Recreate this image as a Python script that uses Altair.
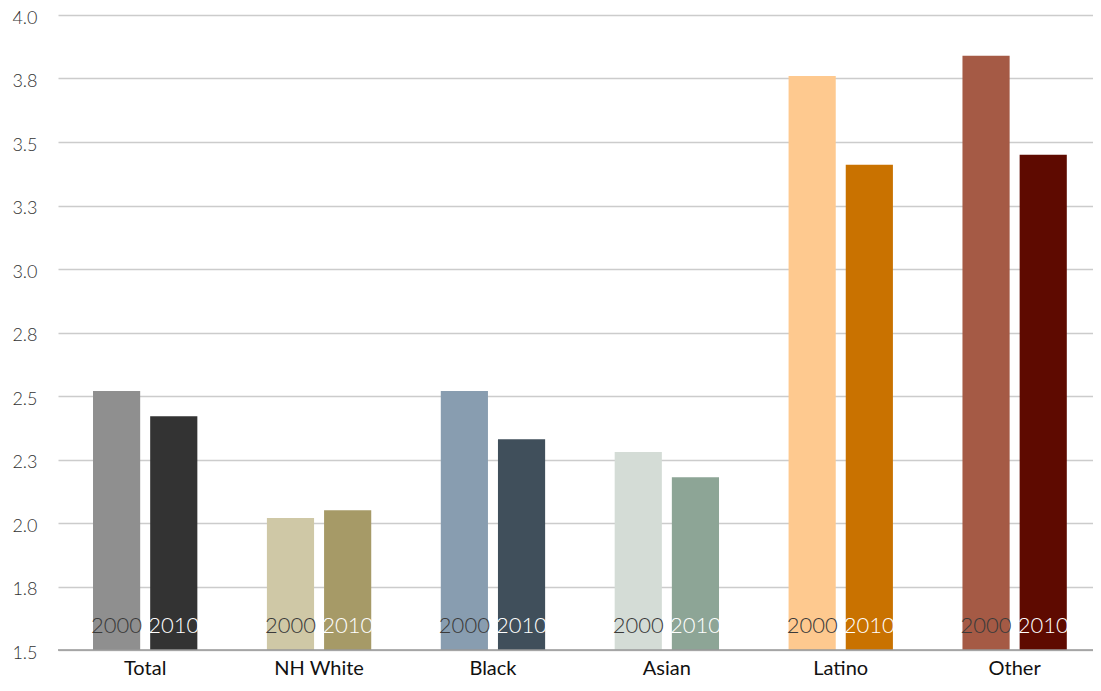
import altair as alt
import pandas as pd

groups = ['Total', 'NH White', 'Black', 'Asian', 'Latino', 'Other']
years = ['2000', '2010']
values_2000 = [2.52, 2.02, 2.52, 2.28, 3.76, 3.84]
values_2010 = [2.42, 2.05, 2.33, 2.18, 3.41, 3.45]
colors_2000 = ['#8f8f8f', '#cfc8a6', '#889db0', '#d4dcd6', '#fec98f', '#a55a45']
colors_2010 = ['#333333', '#a69a67', '#404f5b', '#8da596', '#c97200', '#5e0a00']
y_ticks = [1.5, 1.75, 2.0, 2.25, 2.5, 2.75, 3.0, 3.25, 3.5, 3.75, 4.0]

rows = []
for i, g in enumerate(groups):
    rows.append({'group': g, 'year': '2000', 'value': values_2000[i], 'key': g + ' 2000', 'base': 1.5})
    rows.append({'group': g, 'year': '2010', 'value': values_2010[i], 'key': g + ' 2010', 'base': 1.5})
df = pd.DataFrame(rows)

keys = list(df['key'])
key_colors = []
for i in range(len(groups)):
    key_colors.append(colors_2000[i])
    key_colors.append(colors_2010[i])

font = 'Lato'

# plot area stops at the page edge, so shift the bands a little to the left
x_scale = alt.Scale(paddingInner=0.4, paddingOuter=0.176, align=0.572)
x_enc = alt.X('group:N', sort=groups, title=None, scale=x_scale,
              axis=alt.Axis(labelFont=font, labelFontSize=20, labelColor='#111111',
                            labelAngle=0, labelPadding=8, ticks=False,
                            domain=False, grid=False))
xoff = alt.XOffset('year:N', sort=years, scale=alt.Scale(paddingInner=0.175, paddingOuter=0))

bars = alt.Chart(df).mark_bar().encode(
    x=x_enc,
    xOffset=xoff,
    y=alt.Y('value:Q', title=None,
            scale=alt.Scale(domain=[1.5, 4.0], clamp=True, zero=False, nice=False),
            axis=alt.Axis(values=y_ticks, format='.1f', labelFont=font, labelFontSize=18,
                          labelFontWeight=300, labelColor='#333333', labelPadding=21,
                          labelOffset=3, ticks=False, domain=False,
                          gridColor='#cccccc', gridWidth=1.5)),
    y2=alt.Y2('base:Q'),
    color=alt.Color('key:N', scale=alt.Scale(domain=keys, range=key_colors), legend=None),
)

base_line = alt.Chart(pd.DataFrame({'base': [1.5]})).mark_rule(color='#999999', strokeWidth=1.5).encode(
    y='base:Q'
)

labels = alt.Chart(df).mark_text(baseline='bottom', dy=-12, font=font, fontSize=22,
                                 fontWeight=300).encode(
    x=alt.X('group:N', sort=groups),
    xOffset=xoff,
    y=alt.Y('base:Q'),
    text='year:N',
    color=alt.Color('year:N', scale=alt.Scale(domain=years, range=['#3a3a3a', '#ffffff']),
                    legend=None),
)

chart = alt.layer(bars, base_line, labels).resolve_scale(color='independent').properties(
    width=1035,
    height=635,
    autosize=alt.AutoSizeParams(type='none'),
    padding={'left': 50, 'top': 7, 'right': 0, 'bottom': 30},
).configure_view(stroke=None)

chart.save("out.html", embed_options={"renderer": "svg", "actions": False})
